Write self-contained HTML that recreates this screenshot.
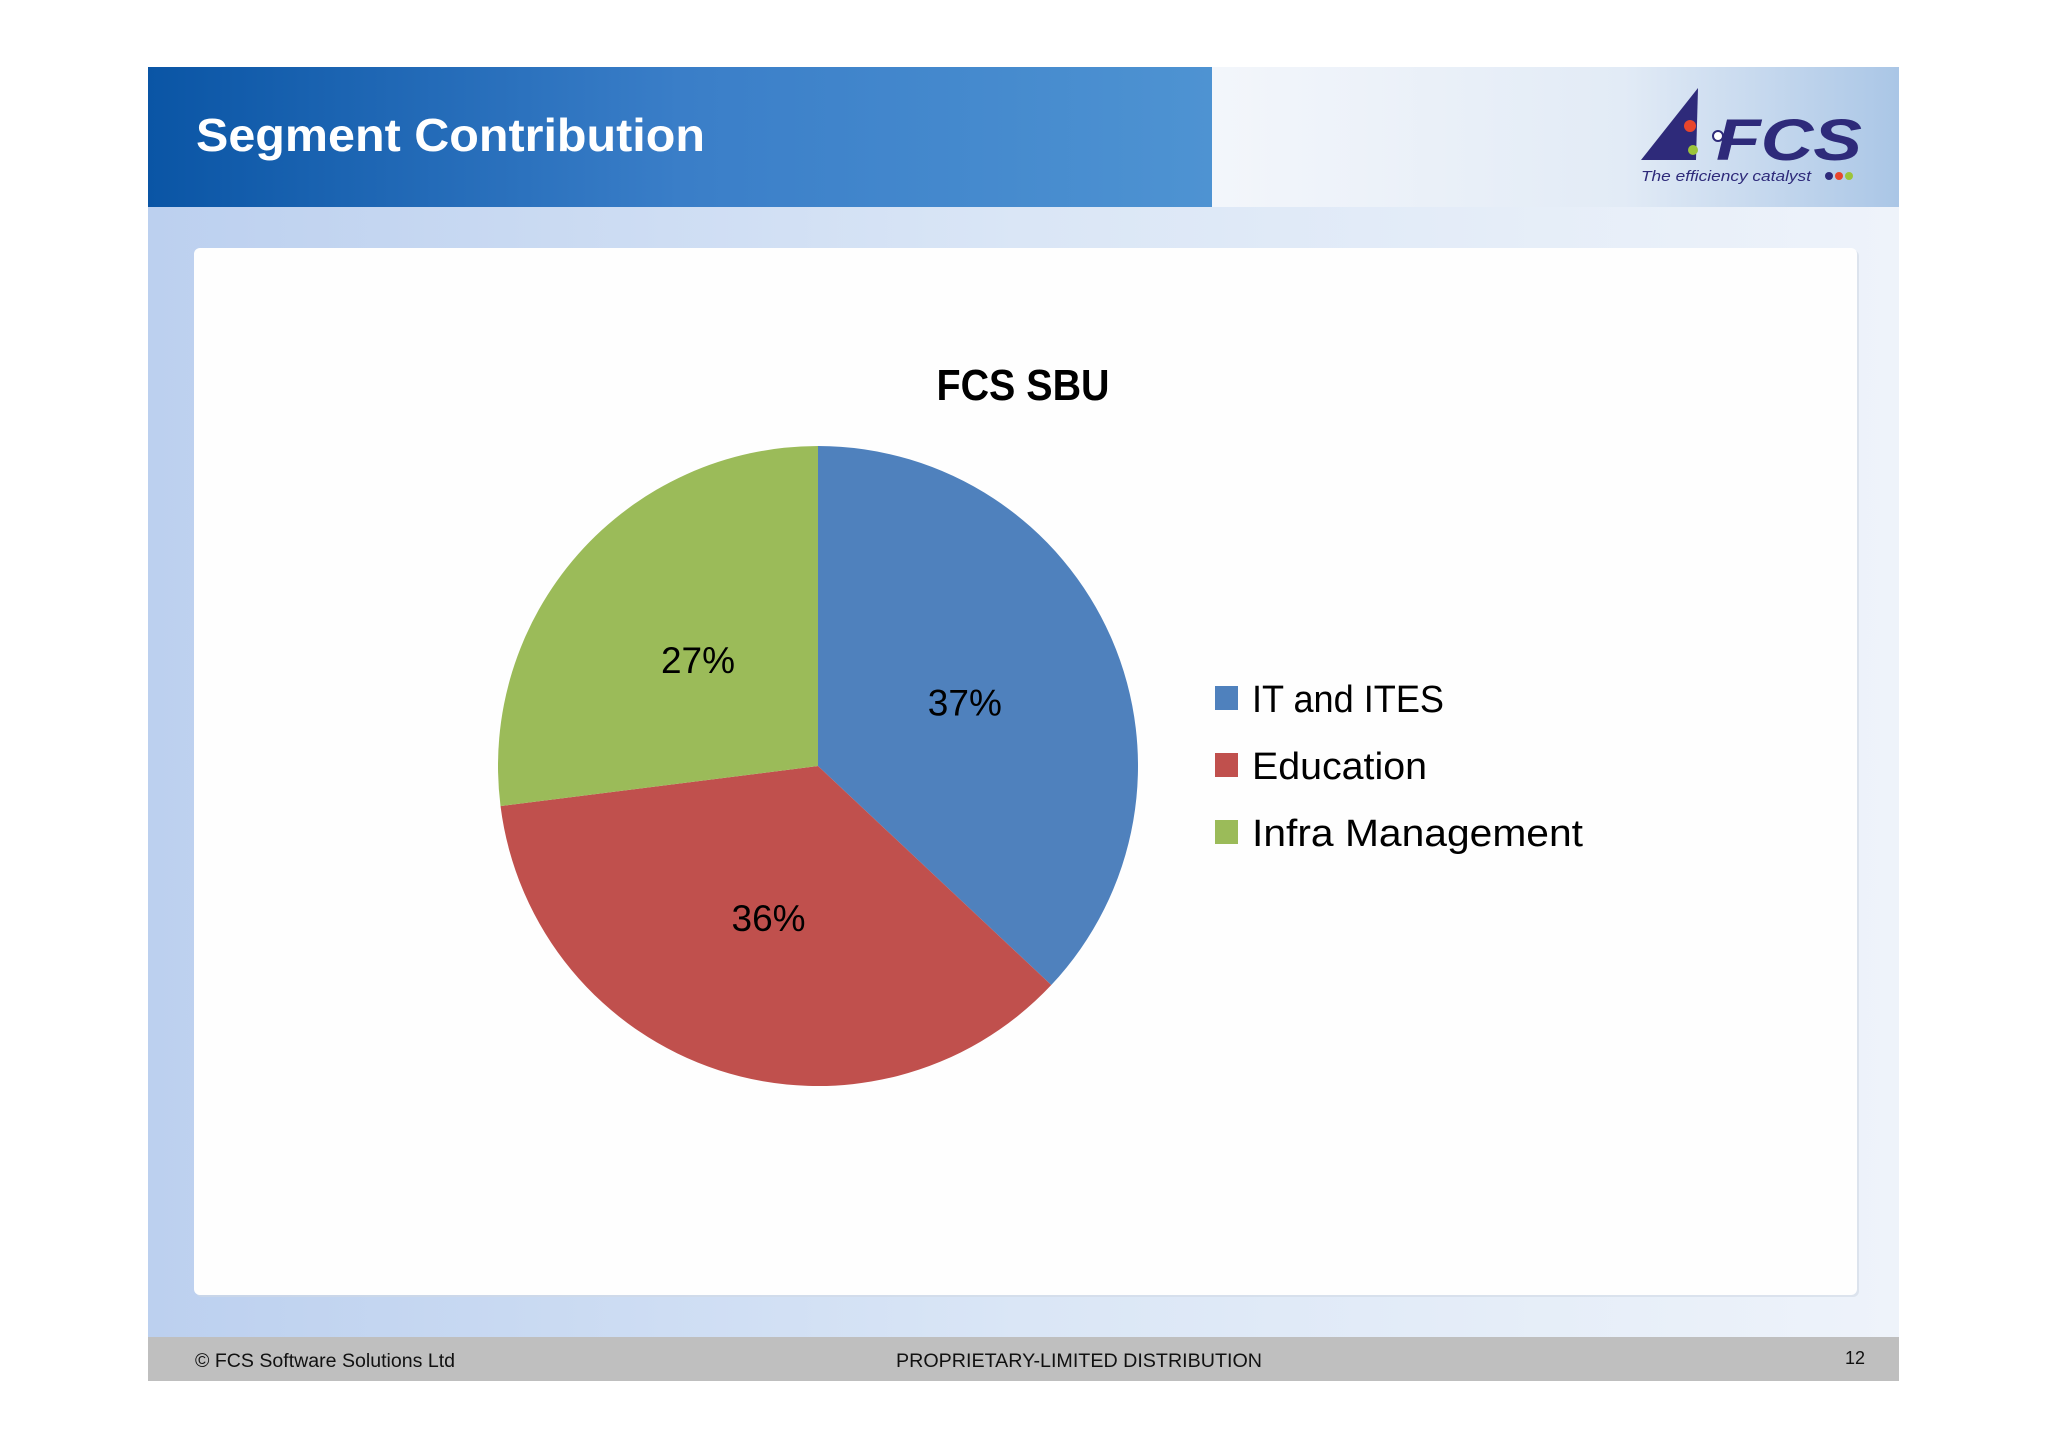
<!DOCTYPE html>
<html><head><meta charset="utf-8"><style>
html,body{margin:0;padding:0;background:#fff;}
body{width:2048px;height:1447px;position:relative;overflow:hidden;font-family:"Liberation Sans",sans-serif;}
</style></head><body>
<svg width="2048" height="1447" viewBox="0 0 2048 1447" xmlns="http://www.w3.org/2000/svg">
<defs>
<linearGradient id="hdr" x1="0" x2="1" y1="0" y2="0">
<stop offset="0" stop-color="#0a55a5"/><stop offset="0.5" stop-color="#3a7ec8"/><stop offset="1" stop-color="#4e93d2"/></linearGradient>
<linearGradient id="logoBg" x1="0" x2="1" y1="0" y2="0">
<stop offset="0" stop-color="#f3f6fb"/><stop offset="0.6" stop-color="#e2ebf6"/><stop offset="1" stop-color="#aac6e6"/></linearGradient>
<linearGradient id="body" x1="0" x2="1" y1="0" y2="0">
<stop offset="0" stop-color="#bcd0ef"/><stop offset="0.5" stop-color="#dae6f6"/><stop offset="1" stop-color="#eef3fa"/></linearGradient>
</defs>
<rect x="148" y="207" width="1751" height="1130" fill="url(#body)"/>
<rect x="148" y="67" width="1064" height="140" fill="url(#hdr)"/>
<rect x="1212" y="67" width="687" height="140" fill="url(#logoBg)"/>
<text x="196" y="151" font-size="46" font-weight="bold" fill="#fff" textLength="509" lengthAdjust="spacingAndGlyphs">Segment Contribution</text>
<g>
<polygon points="1641,160 1698,88 1696,160" fill="#2e2a7a"/>
<text x="1716" y="160" font-size="58" font-weight="bold" font-style="italic" fill="#2e2a7a" textLength="146" lengthAdjust="spacingAndGlyphs">FCS</text>
<circle cx="1690" cy="126" r="6" fill="#e8452c"/><circle cx="1718" cy="136" r="5" fill="#fff" stroke="#2e2a7a" stroke-width="2"/><circle cx="1693" cy="150" r="5" fill="#9cc43a"/>
<text x="1641" y="181" font-size="15" font-style="italic" fill="#2e2a7a" textLength="170" lengthAdjust="spacingAndGlyphs">The efficiency catalyst</text>
<circle cx="1829" cy="176" r="4" fill="#2e2a7a"/><circle cx="1839" cy="176" r="4" fill="#e8452c"/><circle cx="1849" cy="176" r="4" fill="#9cc43a"/>
</g>
<rect x="196" y="250" width="1663" height="1047" rx="6" fill="#d0d8e4" opacity="0.6"/>
<rect x="194" y="248" width="1663" height="1047" rx="6" fill="#fefefe"/>
<text x="1023" y="400" text-anchor="middle" font-size="44" font-weight="bold" fill="#000" textLength="173" lengthAdjust="spacingAndGlyphs">FCS SBU</text>
<g id="pie"></g>
<g id="legend"></g>
<rect x="148" y="1337" width="1751" height="44" fill="#bfbfbf"/>
<text x="195" y="1367" font-size="19" fill="#111" textLength="260" lengthAdjust="spacingAndGlyphs">© FCS Software Solutions Ltd</text>
<text x="896" y="1367" font-size="19" fill="#111" textLength="366" lengthAdjust="spacingAndGlyphs">PROPRIETARY-LIMITED DISTRIBUTION</text>
<text x="1855" y="1364" font-size="18" fill="#111" text-anchor="middle">12</text>
</svg>
<script>
const categories = ["IT and ITES", "Education", "Infra Management"];
const values = [37, 36, 27];
const labels = ["37%", "36%", "27%"];
const colors = ["#4f81bd", "#c0504d", "#9bbb59"];
const legendWidths = [192, 175, 331];
const NS = "http://www.w3.org/2000/svg";
const cx = 818, cy = 766, r = 320;
const total = values.reduce((a, b) => a + b, 0);
const pie = document.getElementById("pie");
const legend = document.getElementById("legend");
function pt(ang, rad) { return [cx + rad * Math.sin(ang), cy - rad * Math.cos(ang)]; }
let start = 0;
values.forEach((v, i) => {
  const ang = v / total * 2 * Math.PI;
  const end = start + ang;
  const p1 = pt(start, r), p2 = pt(end, r);
  const path = document.createElementNS(NS, "path");
  path.setAttribute("d", `M${cx},${cy} L${p1[0]},${p1[1]} A${r},${r} 0 ${ang > Math.PI ? 1 : 0} 1 ${p2[0]},${p2[1]} Z`);
  path.setAttribute("fill", colors[i]);
  
  
  pie.appendChild(path);
  const mid = start + ang / 2;
  const lp = pt(mid, r * 0.5);
  const t = document.createElementNS(NS, "text");
  t.setAttribute("x", lp[0]); t.setAttribute("y", lp[1] + 13);
  t.setAttribute("text-anchor", "middle");
  t.setAttribute("font-size", "37");
  t.setAttribute("fill", "#000");
  t.textContent = labels[i];
  
  
  pie.appendChild(t);
  start = end;
  const y = 698 + i * 67;
  const sq = document.createElementNS(NS, "rect");
  sq.setAttribute("x", 1215); sq.setAttribute("y", y - 12);
  sq.setAttribute("width", 23); sq.setAttribute("height", 24);
  sq.setAttribute("fill", colors[i]);
  
  
  legend.appendChild(sq);
  const lt = document.createElementNS(NS, "text");
  lt.setAttribute("x", 1252); lt.setAttribute("y", y + 14);
  lt.setAttribute("font-size", "38");
  lt.setAttribute("fill", "#000");
  lt.setAttribute("textLength", legendWidths[i]);
  lt.setAttribute("lengthAdjust", "spacingAndGlyphs");
  lt.textContent = categories[i];
  
  
  legend.appendChild(lt);
});
</script>
</body></html>
